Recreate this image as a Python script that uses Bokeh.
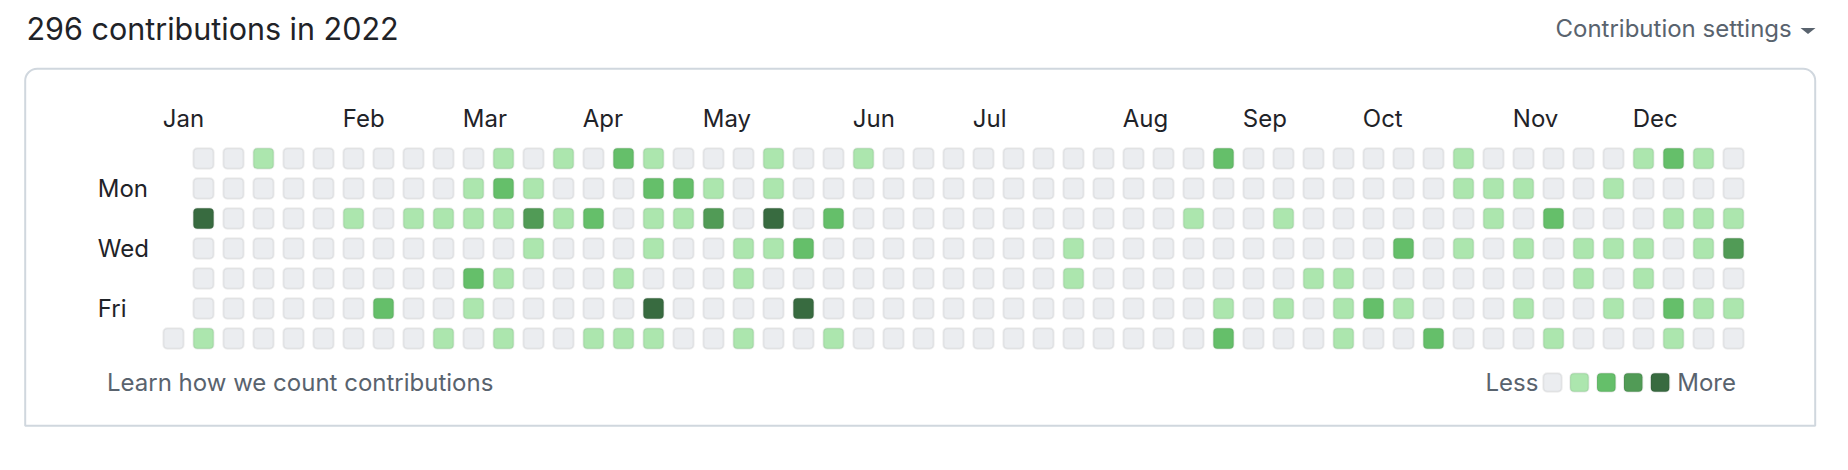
from bokeh.plotting import figure
from bokeh.models import Range1d, ColumnDataSource, BoxAnnotation
from bokeh.core.properties import value
from bokeh.embed import file_html
from bokeh.resources import INLINE

# ---------------- data ----------------
title_text = "296 contributions in 2022"
months = ["Jan", "Feb", "Mar", "Apr", "May", "Jun", "Jul", "Aug", "Sep", "Oct", "Nov", "Dec"]
month_cols = [0, 6, 10, 14, 18, 23, 27, 32, 36, 40, 45, 49]
day_labels = ["Mon", "Wed", "Fri"]
day_rows = [1, 3, 5]

# contribution level per week column (53 weeks), one list per weekday; -1 = no day
sun = [-1, 0, 0, 1, 0, 0, 0, 0, 0, 0, 0, 1, 0, 1, 0, 2, 1, 0, 0, 0, 1, 0, 0, 1, 0, 0, 0,
       0, 0, 0, 0, 0, 0, 0, 0, 2, 0, 0, 0, 0, 0, 0, 0, 1, 0, 0, 0, 0, 0, 1, 2, 1, 0]
mon = [-1, 0, 0, 0, 0, 0, 0, 0, 0, 0, 1, 2, 1, 0, 0, 0, 2, 2, 1, 0, 1, 0, 0, 0, 0, 0, 0,
       0, 0, 0, 0, 0, 0, 0, 0, 0, 0, 0, 0, 0, 0, 0, 0, 1, 1, 1, 0, 0, 1, 0, 0, 0, 0]
tue = [-1, 4, 0, 0, 0, 0, 1, 0, 1, 1, 1, 1, 3, 1, 2, 0, 1, 1, 3, 0, 4, 0, 2, 0, 0, 0, 0,
       0, 0, 0, 0, 0, 0, 0, 1, 0, 0, 1, 0, 0, 0, 0, 0, 0, 1, 0, 2, 0, 0, 0, 1, 1, 1]
wed = [-1, 0, 0, 0, 0, 0, 0, 0, 0, 0, 0, 0, 1, 0, 0, 0, 1, 0, 0, 1, 1, 2, 0, 0, 0, 0, 0,
       0, 0, 0, 1, 0, 0, 0, 0, 0, 0, 0, 0, 0, 0, 2, 0, 1, 0, 1, 0, 1, 1, 1, 0, 1, 3]
thu = [-1, 0, 0, 0, 0, 0, 0, 0, 0, 0, 2, 1, 0, 0, 0, 1, 0, 0, 0, 1, 0, 0, 0, 0, 0, 0, 0,
       0, 0, 0, 1, 0, 0, 0, 0, 0, 0, 0, 1, 1, 0, 0, 0, 0, 0, 0, 0, 1, 0, 1, 0, 0, 0]
fri = [-1, 0, 0, 0, 0, 0, 0, 2, 0, 0, 1, 0, 0, 0, 0, 0, 4, 0, 0, 0, 0, 4, 0, 0, 0, 0, 0,
       0, 0, 0, 0, 0, 0, 0, 0, 1, 0, 1, 0, 1, 2, 1, 0, 0, 0, 1, 0, 0, 1, 0, 2, 1, 1]
sat = [0, 1, 0, 0, 0, 0, 0, 0, 0, 1, 0, 1, 0, 0, 1, 1, 1, 0, 0, 1, 0, 0, 1, 0, 0, 0, 0,
       0, 0, 0, 0, 0, 0, 0, 0, 2, 0, 0, 0, 1, 0, 0, 2, 0, 0, 0, 1, 0, 0, 0, 1, 0, 0]
week_rows = [sun, mon, tue, wed, thu, fri, sat]

level_colors = ["#ebedf0", "#ace6ae", "#65bf6a", "#519b56", "#386b40"]

# ---------------- layout (pixel positions measured on the page) ----------------
W, H = 1832, 454
PX = 30.0              # pixels per week column / weekday row
X0, Y0 = 173.0, 158.0  # pixel centre of column 0 / row 0
SHIFT = 0.375          # baseline correction, in em


def X(px):
    return (px - X0) / PX


def Y(px):
    return (px - Y0) / PX


def TY(px, size):
    # text baseline position, corrected for how the glyph is anchored
    return Y(px - SHIFT * size)


p = figure(width=W, height=H, output_backend="svg", toolbar_location=None,
           x_range=Range1d(X(0), X(W)), y_range=Range1d(Y(H), Y(0)),
           x_axis_type=None, y_axis_type=None, min_border=0)
p.grid.visible = False
p.outline_line_color = None
p.background_fill_color = "white"
p.border_fill_color = "white"

DARK = "#1f2328"
MUTED = "#59636e"
FONT = value("Inter")

# outer box
p.add_layout(BoxAnnotation(left=X(24.7), right=X(1814.7), top=Y(68.3), bottom=Y(425.3),
                           fill_alpha=0, line_color="#d0d7de", line_alpha=1.0, line_width=2,
                           border_radius=dict(top_left=12, top_right=12,
                                              bottom_right=0, bottom_left=0)))

# cells
xs, ys, cs = [], [], []
for r, row in enumerate(week_rows):
    for c, lv in enumerate(row):
        if lv >= 0:
            xs.append(c)
            ys.append(r)
            cs.append(level_colors[lv])
src = ColumnDataSource(dict(x=xs, y=ys, color=cs))
cell = 20.3 / PX
p.rect(x="x", y="y", width=cell, height=cell, source=src, fill_color="color",
       line_color="#1b1f23", line_alpha=0.07, line_width=2, border_radius=4)

# month labels
p.text(x=[c - 10.7 / PX for c in month_cols], y=[TY(127, 24)] * len(months), text=months,
       text_font=FONT, text_font_size="24px", text_color=DARK,
       text_align="left", text_baseline="alphabetic")

# weekday labels
p.text(x=[X(97.3)] * len(day_labels), y=[r + (9 - SHIFT * 24) / PX for r in day_rows],
       text=day_labels, text_font=FONT, text_font_size="24px", text_color=DARK,
       text_align="left", text_baseline="alphabetic")

# title & header
p.text(x=[X(26)], y=[TY(39.3, 30.5)], text=[title_text], text_font=FONT,
       text_font_size="30.5px", text_color=DARK, text_align="left", text_baseline="alphabetic")
p.text(x=[X(1555)], y=[TY(36.7, 24)], text=["Contribution settings"], text_font=FONT,
       text_font_size="24px", text_color=MUTED, text_align="left", text_baseline="alphabetic")
cx, cy = 1807.5, 30
p.patch(x=[X(cx - 7.5), X(cx + 7.5), X(cx)], y=[Y(cy - 2.5), Y(cy - 2.5), Y(cy + 3.5)],
        fill_color=MUTED, line_color=None)

# footer
p.text(x=[X(106.5)], y=[TY(391.3, 24)], text=["Learn how we count contributions"],
       text_font=FONT, text_font_size="24px", text_color=MUTED,
       text_align="left", text_baseline="alphabetic")
p.text(x=[X(1485)], y=[TY(390.7, 24)], text=["Less"], text_font=FONT, text_font_size="24px",
       text_color=MUTED, text_align="left", text_baseline="alphabetic")
p.text(x=[X(1676.7)], y=[TY(390.7, 24)], text=["More"], text_font=FONT, text_font_size="24px",
       text_color=MUTED, text_align="left", text_baseline="alphabetic")
leg_levels = list(range(len(level_colors)))
p.rect(x=[X(1552 + 26.9 * k) for k in leg_levels], y=[Y(382)] * len(leg_levels),
       width=18.5 / PX, height=18.5 / PX, fill_color=level_colors,
       line_color="#1b1f23", line_alpha=0.07, line_width=2, border_radius=4)

open("out.html", "w").write(file_html(p, INLINE))
